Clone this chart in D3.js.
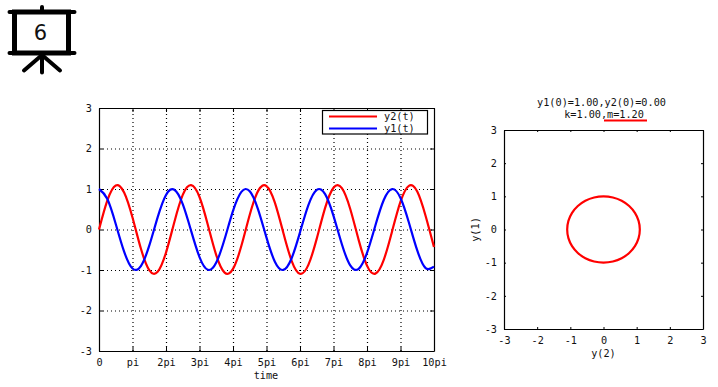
<!DOCTYPE html>
<html>
<head>
<meta charset="utf-8">
<script src="https://cdn.jsdelivr.net/npm/d3@7"></script>
<style>
    body { margin: 0; background: #fff; }
    text { font-family: "DejaVu Sans Mono", monospace; font-size: 10.2px; fill: #111; }
    .domain { stroke: #000; stroke-width: 1.2; }
    .tick line { stroke: #000; }
    .grid line { stroke: #000; stroke-dasharray: 1 3; stroke-width: 1.2; }
</style>
</head>
<body>
<svg id="chart" width="718" height="387"></svg>
<script>
// values, one every quarter of pi
var y1_vals = [1.00,0.754,0.136,-0.548,-0.963,-0.903,-0.400,0.301,0.854,0.983,0.626,-0.034,-0.680,-0.995,-0.817,-0.236,0.459,0.930,0.943,0.491,-0.202,
    -0.796,-0.998,-0.709,-0.070,0.602,0.979,0.873,0.337,-0.365,-0.887,-0.972,-0.578,0.100,0.729,0.999,0.778,0.173,-0.517,-0.952,-0.918];
var y2_vals = [0.00,0.720,1.085,0.915,0.297,-0.470,-1.004,-1.044,-0.570,0.186,0.854,1.094,0.803,0.113,-0.632,-1.064,-0.973,-0.403,0.365,0.954,1.072,
    0.664,-0.073,-0.772,-1.093,-0.874,-0.225,0.535,1.031,1.020,0.506,-0.256,-0.893,-1.090,-0.750,-0.041,0.688,1.078,0.937,0.334,-0.434];
var t_vals = y1_vals.map(function(d, i){ return i / 4; }); // in units of pi

// outline of the orbit in the right plot
var orbit_y2 = [0,0.283,0.548,0.774,0.948,1.058,1.095,1.058,0.948,0.774,0.548,0.283,0,-0.283,-0.548,-0.774,-0.948,-1.058,-1.095,-1.058,-0.948,-0.774,-0.548,-0.283];
var orbit_y1 = [1,0.966,0.866,0.707,0.5,0.259,0,-0.259,-0.5,-0.707,-0.866,-0.966,-1,-0.966,-0.866,-0.707,-0.5,-0.259,0,0.259,0.5,0.707,0.866,0.966];

var t_ticks = [0,1,2,3,4,5,6,7,8,9,10];
var t_labels = ["0","pi","2pi","3pi","4pi","5pi","6pi","7pi","8pi","9pi","10pi"];
var y_ticks = [-3,-2,-1,0,1,2,3];

var svg = d3.select("#chart");

// little projector screen with the number on it
var icon = svg.append("g")
    .attr("fill", "none").attr("stroke", "#000").attr("stroke-linecap", "round");
icon.append("path").attr("d", "M42 7V12").attr("stroke-width", 4);
icon.append("rect").attr("x", 14.5).attr("y", 12).attr("width", 54).attr("height", 41).attr("stroke-width", 5);
icon.append("path").attr("d", "M9.5 12H74.5M9.5 53H74.5").attr("stroke-width", 4);
icon.append("path").attr("d", "M42 55V72.5M42 55L24 70.5M42 55L60 70.5").attr("stroke-width", 4);
svg.append("text").attr("x", 40.5).attr("y", 40).attr("text-anchor", "middle")
    .style("font-family", "'DejaVu Sans'").style("font-size", "21px").text("6");

function frame(g, x, y, w, h, xTicks, xLabels, tickLen){
    g.append("g").attr("transform", "translate(0," + h + ")")
        .call(d3.axisBottom(x).tickValues(xTicks).tickFormat(function(d, i){ return xLabels[i]; })
            .tickSize(-tickLen).tickSizeOuter(0).tickPadding(8));
    g.append("g")
        .call(d3.axisTop(x).tickValues(xTicks).tickFormat("").tickSize(-tickLen).tickSizeOuter(0));
    g.append("g")
        .call(d3.axisLeft(y).tickValues(y_ticks).tickFormat(String).tickSize(-tickLen).tickSizeOuter(0).tickPadding(7));
    g.append("g").attr("transform", "translate(" + w + ",0)")
        .call(d3.axisRight(y).tickValues(y_ticks).tickFormat("").tickSize(-tickLen).tickSizeOuter(0));
}

// left plot, y1 and y2 against time
var w1 = 335, h1 = 243;
var left = svg.append("g").attr("transform", "translate(99,108)");
var x1 = d3.scaleLinear().domain([0, 10]).range([0, w1]);
var y1s = d3.scaleLinear().domain([-3, 3]).range([h1, 0]);

left.append("g").attr("class", "grid").attr("transform", "translate(0," + h1 + ")")
    .call(d3.axisBottom(x1).tickValues(t_ticks.slice(1, -1)).tickFormat("").tickSize(-h1))
    .select(".domain").remove();
left.append("g").attr("class", "grid")
    .call(d3.axisLeft(y1s).tickValues(y_ticks.slice(1, -1)).tickFormat("").tickSize(-w1))
    .select(".domain").remove();

frame(left, x1, y1s, w1, h1, t_ticks, t_labels, 4);

var line1 = d3.line().curve(d3.curveNatural)
    .x(function(d, i){ return x1(t_vals[i]); })
    .y(function(d){ return y1s(d); });

left.append("path").datum(y2_vals).attr("d", line1)
    .attr("fill", "none").attr("stroke", "#ff0000").attr("stroke-width", 2.2);
left.append("path").datum(y1_vals).attr("d", line1)
    .attr("fill", "none").attr("stroke", "#0000ff").attr("stroke-width", 2.2);

left.append("text").attr("x", 167).attr("y", h1 + 28).attr("text-anchor", "middle").text("time");

// legend
var legend = svg.append("g").attr("transform", "translate(322,110.5)");
legend.append("rect").attr("x", 0.5).attr("width", 105).attr("height", 23.5)
    .attr("fill", "#fff").attr("stroke", "#000").attr("stroke-width", 1.2);
[["y2(t)", "#ff0000", 6], ["y1(t)", "#0000ff", 18]].forEach(function(d){
    legend.append("line").attr("x1", 7).attr("x2", 55).attr("y1", d[2]).attr("y2", d[2])
        .attr("stroke", d[1]).attr("stroke-width", 2.2);
    legend.append("text").attr("x", 62).attr("y", d[2] + 3.5).text(d[0]);
});

// right plot, y1 against y2
var w2 = 199, h2 = 199;
var right = svg.append("g").attr("transform", "translate(504,130)");
var x2 = d3.scaleLinear().domain([-3, 3]).range([0, w2]);
var y2s = d3.scaleLinear().domain([-3, 3]).range([h2, 0]);

frame(right, x2, y2s, w2, h2, y_ticks, y_ticks.map(String), 2);

right.append("path").datum(orbit_y1)
    .attr("d", d3.line().curve(d3.curveCatmullRomClosed)
        .x(function(d, i){ return x2(orbit_y2[i]); })
        .y(function(d){ return y2s(d); }))
    .attr("fill", "none").attr("stroke", "#ff0000").attr("stroke-width", 2.2);

right.append("text").attr("x", w2 / 2).attr("y", h2 + 28).attr("text-anchor", "middle").text("y(2)");
right.append("text").attr("transform", "translate(-25," + (h2 / 2) + ") rotate(-90)")
    .attr("text-anchor", "middle").text("y(1)");

svg.append("text").attr("x", 601.5).attr("y", 106).attr("text-anchor", "middle").text("y1(0)=1.00,y2(0)=0.00");
svg.append("text").attr("x", 604).attr("y", 118).attr("text-anchor", "middle").text("k=1.00,m=1.20");
svg.append("line").attr("x1", 604).attr("x2", 647).attr("y1", 120.5).attr("y2", 120.5)
    .attr("stroke", "#ff0000").attr("stroke-width", 2);
</script>
</body>
</html>
